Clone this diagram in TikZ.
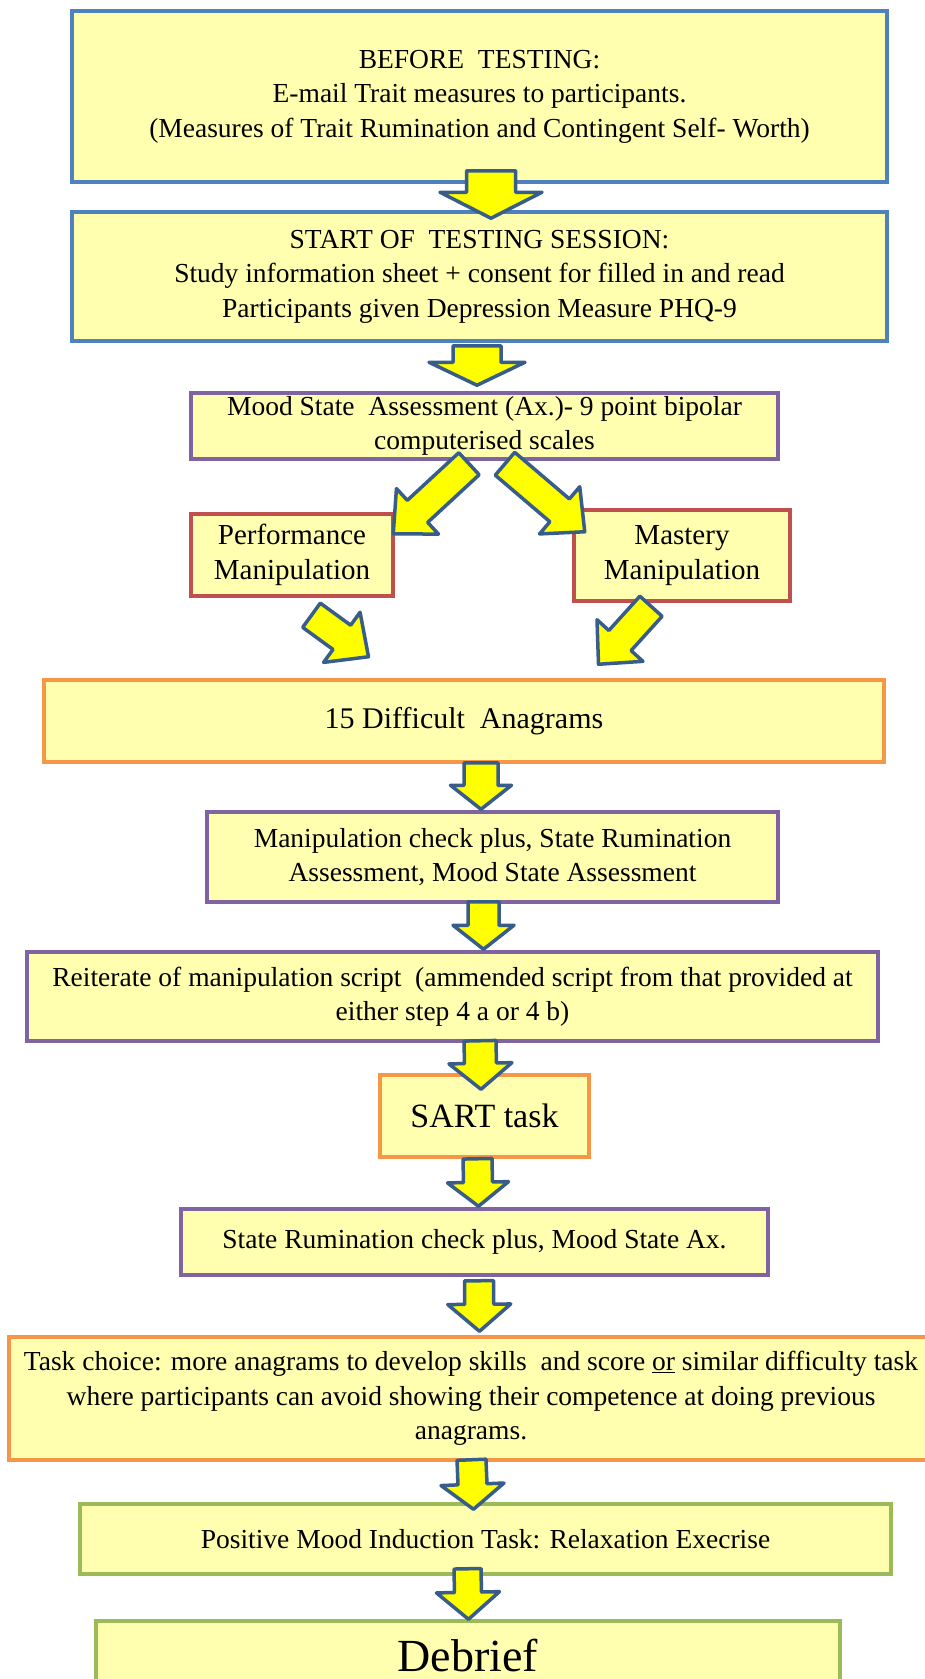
\documentclass[tikz,border=0pt]{standalone}
\usepackage{fontspec}
\setmainfont{Liberation Serif}
\usetikzlibrary{calc}

\definecolor{boxfill}{RGB}{255,255,175}
\definecolor{blueline}{RGB}{79,129,189}
\definecolor{purpleline}{RGB}{128,100,162}
\definecolor{redline}{RGB}{192,80,77}
\definecolor{orangeline}{RGB}{247,150,70}
\definecolor{greenline}{RGB}{155,187,89}
\definecolor{arrowline}{RGB}{56,93,138}
\definecolor{arrowfill}{RGB}{255,255,0}

\begin{document}
\begin{tikzpicture}[x=1pt, y=-1pt,
  every node/.style={font=\fontsize{27.5}{34.5}\selectfont},
  box/.style={draw=#1, fill=boxfill, line width=3.5pt, inner sep=0pt, align=center},
  barrow/.style n args={3}{draw=arrowline, fill=arrowfill, line width=3.5pt, line join=round,
    to path={let \p1=(\tikztostart), \p2=(\tikztotarget),
      \n1={atan2(\y2-\y1,\x2-\x1)+90}, \n2={atan2(\y2-\y1,\x2-\x1)-90},
      \p3=($(\p2)!#3!(\p1)$) in
      ($(\p1)+(\n1:#1)$) -- ($(\p3)+(\n1:#1)$) -- ($(\p3)+(\n1:#2)$) -- (\p2)
      -- ($(\p3)+(\n2:#2)$) -- ($(\p3)+(\n2:#1)$) -- ($(\p1)+(\n2:#1)$) -- cycle}},
]
\fill[white] (0,0) rectangle (924,1679);
\useasboundingbox (0,0) rectangle (924,1679);

%% ── Before and start of testing ─────────────────────────────────────────
\node[box=blueline, minimum width=815pt, minimum height=171pt] (before) at (479.5,96.5)
  {BEFORE\ \ TESTING:\\E-mail Trait measures to participants.\\(Measures of Trait Rumination and Contingent Self- Worth)};
\node[box=blueline, minimum width=815pt, minimum height=129pt] (start) at (479.5,276.5)
  {START OF\ \ TESTING SESSION:\\Study information sheet + consent for filled in and read\\Participants given Depression Measure PHQ-9};

%% ── Mood assessment and the two manipulations ───────────────────────────
\node[box=purpleline, minimum width=587pt, minimum height=66pt] (mood) at (484.5,426)
  {Mood State\ \ Assessment (Ax.)- 9 point bipolar\\computerised scales};
\node[box=redline, minimum width=202pt, minimum height=82pt, font=\fontsize{29}{35}\selectfont] (perf) at (292,555)
  {Performance\\Manipulation};
\node[box=redline, minimum width=216pt, minimum height=91pt, font=\fontsize{29}{35}\selectfont] (mastery) at (682,555.5)
  {Mastery\\Manipulation};

%% ── Task sequence ───────────────────────────────────────────────────────
\node[box=orangeline, minimum width=840pt, minimum height=82pt, font=\fontsize{30}{36}\selectfont] (anagrams) at (464,721)
  {15 Difficult\ \ Anagrams};
\node[box=purpleline, minimum width=571pt, minimum height=90pt] (check) at (492.5,857)
  {Manipulation check plus, State Rumination\\Assessment, Mood State Assessment};
\node[box=purpleline, minimum width=851pt, minimum height=89pt] (reiterate) at (452.5,996.5)
  {Reiterate of manipulation script\ \ (ammended script from that provided at\\either step 4 a or 4 b)};
\node[box=orangeline, minimum width=209pt, minimum height=82pt, font=\fontsize{34}{40}\selectfont] (sart) at (484.5,1116)
  {SART task};
\node[box=purpleline, minimum width=587pt, minimum height=66pt] (staterum) at (474.5,1242)
  {State Rumination check plus, Mood State Ax.};
\node[box=orangeline, minimum width=924pt, minimum height=123pt] (choice) at (471,1398.5)
  {Task choice: more anagrams to develop skills\ \ and score \underline{or} similar difficulty task\\where participants can avoid showing their competence at doing previous\\anagrams.};
\node[box=greenline, minimum width=811pt, minimum height=70pt] (relax) at (485.5,1539)
  {Positive Mood Induction Task: Relaxation Execrise};
\node[box=greenline, minimum width=744pt, minimum height=69pt, font=\fontsize{46}{55}\selectfont] (debrief) at (468,1655.5)
  {Debrief};

%% ── Block arrows ────────────────────────────────────────────────────────
\draw[barrow={24.5pt}{51pt}{26pt}] ([xshift=11.5pt,yshift=13pt]before.south) to ([xshift=11.5pt,yshift=-8pt]start.north);
\draw[barrow={24pt}{48pt}{23pt}] ([xshift=-2.5pt,yshift=-3pt]start.south) to ([xshift=-7.5pt,yshift=6pt]mood.north);

\draw[barrow={15pt}{31pt}{33pt}] ([xshift=-15.5pt,yshift=-3pt]mood.south) to ([xshift=-1.5pt,yshift=-21.5pt]perf.north east);
\draw[barrow={15pt}{31pt}{33pt}] ([xshift=20.5pt,yshift=-3pt]mood.south) to ([xshift=12.5pt,yshift=-23.5pt]mastery.north west);
\draw[barrow={15pt}{31pt}{33pt}] ([xshift=19.5pt,yshift=-17.5pt]perf.south) to ([xshift=-95.5pt,yshift=21.5pt]anagrams.north);
\draw[barrow={15pt}{31pt}{32pt}] ([xshift=-31pt,yshift=-3.5pt]mastery.south) to ([xshift=134.5pt,yshift=14pt]anagrams.north);

\draw[barrow={17pt}{30.5pt}{24pt}] ([xshift=17pt,yshift=1pt]anagrams.south) to ([xshift=-11.5pt,yshift=1pt]check.north);
\draw[barrow={15.5pt}{30.5pt}{24pt}] ([xshift=-9pt,yshift=2pt]check.south) to ([xshift=31pt,yshift=1pt]reiterate.north);
\draw[barrow={16pt}{31.5pt}{26pt}] ([xshift=27.5pt,yshift=2pt]reiterate.south) to ([xshift=-3.5pt,yshift=-16pt]sart.north);
\draw[barrow={14.5pt}{30.5pt}{24pt}] ([xshift=-7pt]sart.south) to ([xshift=4pt,yshift=1pt]staterum.north);
\draw[barrow={14.5pt}{31.5pt}{27pt}] ([xshift=4.5pt,yshift=-4pt]staterum.south) to ([xshift=8.5pt,yshift=4pt]choice.north);
\draw[barrow={14.5pt}{31.5pt}{25pt}] ([xshift=0.5pt,yshift=2pt]choice.south) to ([xshift=-12pt,yshift=-7pt]relax.north);
\draw[barrow={13.5pt}{31.5pt}{27pt}] ([xshift=-18pt,yshift=7pt]relax.south) to ([xshift=0.5pt]debrief.north);
\end{tikzpicture}
\end{document}
